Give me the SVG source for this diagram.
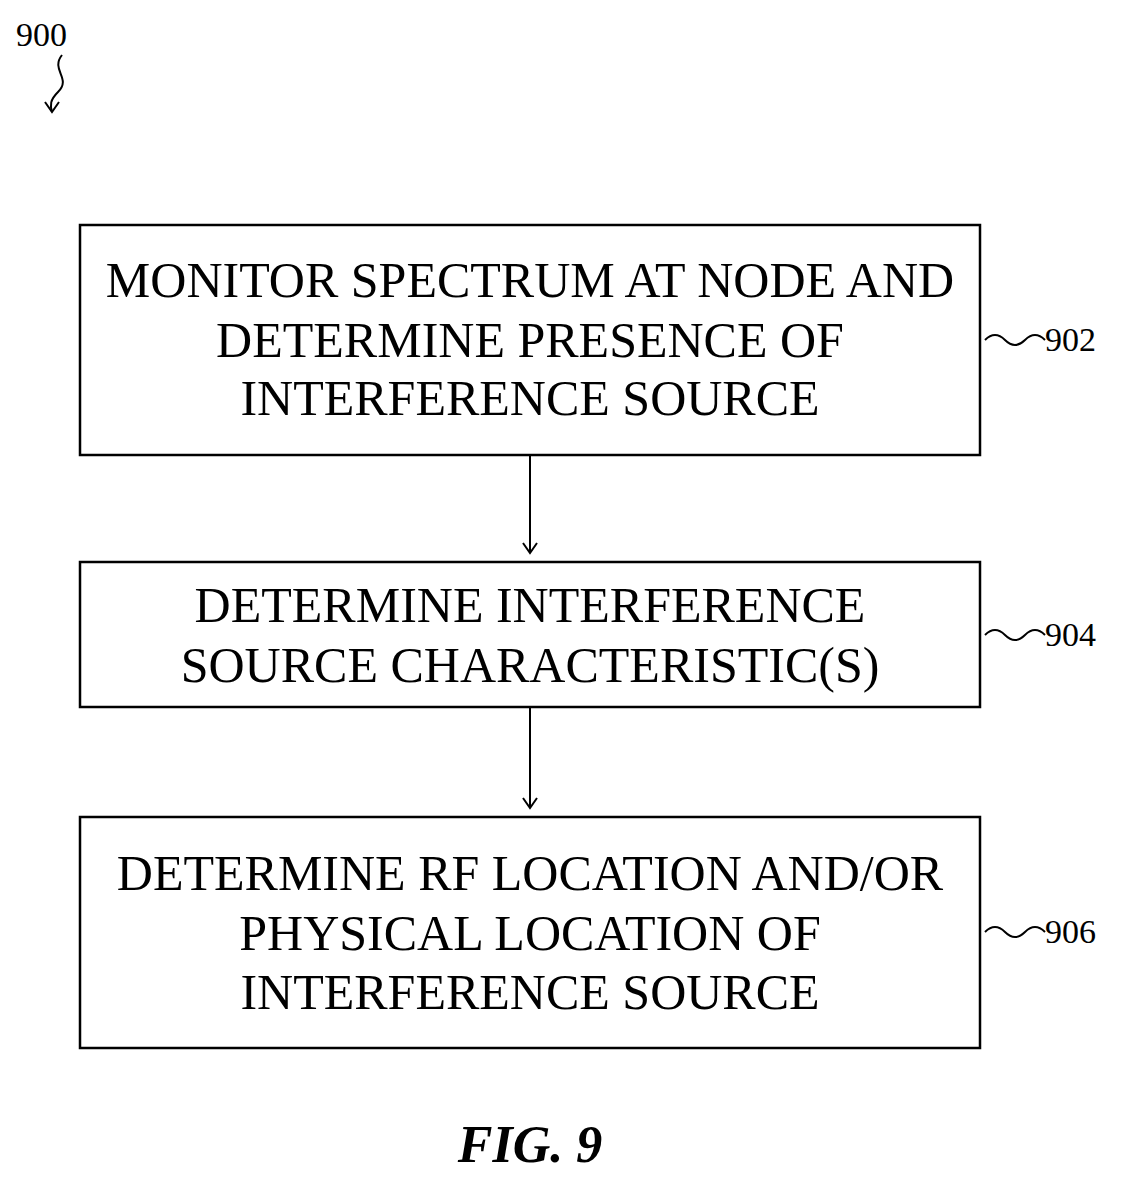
<svg xmlns="http://www.w3.org/2000/svg" width="1130" height="1188" viewBox="0 0 1130 1188">
<style>
.box{fill:#fff;stroke:#000;stroke-width:2.5}
.t{font-family:"Liberation Serif",serif;font-size:50px;text-anchor:middle;fill:#000}
.ref{font-family:"Liberation Serif",serif;font-size:34px;fill:#000}
.c{fill:none;stroke:#000;stroke-width:2}
</style>
<defs>
<marker id="b" markerWidth="16" markerHeight="16" refX="8" refY="14" orient="0" markerUnits="userSpaceOnUse" viewBox="0 0 16 16"><path d="M1,4 L8,14 L15,4" fill="none" stroke="#000" stroke-width="2"/></marker></defs>
<text class="ref" x="16" y="46">900</text>
<path class="c" d="M62,55 C50,70 72,78 58,92 C50,100 50,105 52,112" marker-end="url(#b)"/>
<g id="n902"><rect class="box" x="80" y="225" width="900" height="230"/>
<text class="t" x="530" y="297">MONITOR SPECTRUM AT NODE AND</text>
<text class="t" x="530" y="357">DETERMINE PRESENCE OF</text>
<text class="t" x="530" y="415">INTERFERENCE SOURCE</text>
<path class="c" d="M985,340 q10,-10 20,0 t20,0 t20,0"/><text class="ref" x="1045" y="351">902</text></g>
<g id="n904"><rect class="box" x="80" y="562" width="900" height="145"/>
<text class="t" x="530" y="622">DETERMINE INTERFERENCE</text>
<text class="t" x="530" y="682">SOURCE CHARACTERISTIC(S)</text>
<path class="c" d="M985,635 q10,-10 20,0 t20,0 t20,0"/><text class="ref" x="1045" y="646">904</text></g>
<g id="n906"><rect class="box" x="80" y="817" width="900" height="231"/>
<text class="t" x="530" y="890">DETERMINE RF LOCATION AND/OR</text>
<text class="t" x="530" y="950">PHYSICAL LOCATION OF</text>
<text class="t" x="530" y="1009">INTERFERENCE SOURCE</text>
<path class="c" d="M985,932 q10,-10 20,0 t20,0 t20,0"/><text class="ref" x="1045" y="943">906</text></g>
<g id="connectors">
<path class="c" d="M530,455 V553" marker-end="url(#b)"/>
<path class="c" d="M530,707 V808" marker-end="url(#b)"/>
</g>
<text x="530" y="1162" style="font-family:'Liberation Serif',serif;font-size:52px;font-style:italic;font-weight:bold;text-anchor:middle">FIG. 9</text>
</svg>
